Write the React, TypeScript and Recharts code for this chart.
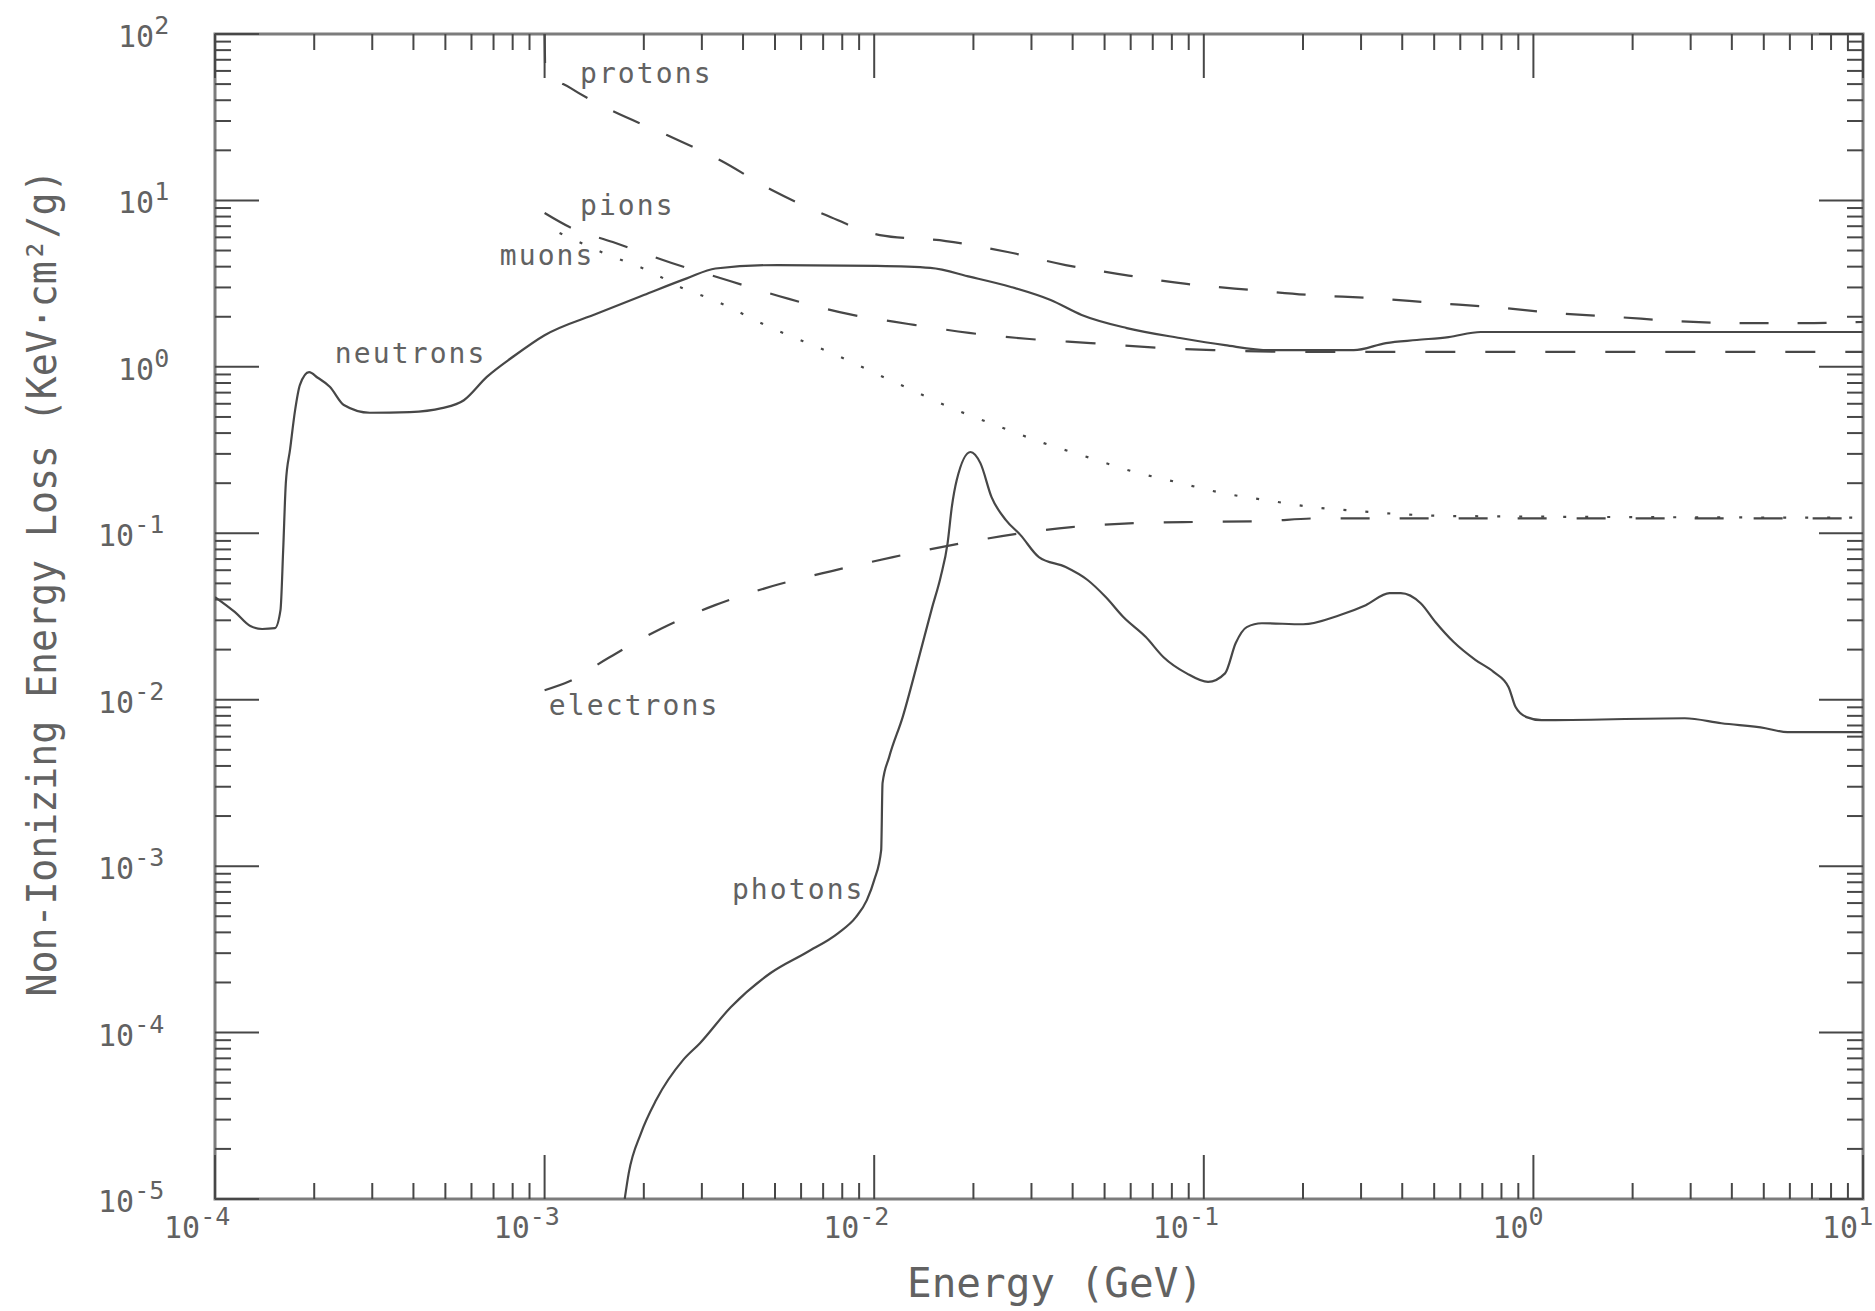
import React from "react";
import { LineChart, Line, XAxis, YAxis, ReferenceArea, ReferenceDot } from "recharts";

const WIDTH = 1875;
const HEIGHT = 1311;
const MARGIN = { top: 34, right: 12, bottom: 0, left: 0 };
const Y_AXIS_WIDTH = 215;
const X_AXIS_HEIGHT = 112;
const PLOT_TOP = MARGIN.top;
const PLOT_RIGHT = WIDTH - MARGIN.right;

const INK = "#474747";
const TEXT = "#626262";
const FRAME = "#7c7c7c";
const MONO = "'DejaVu Sans Mono', 'Liberation Mono', monospace";

// axis decades, labelled as 10^n
const xDecades = [1e-4, 1e-3, 1e-2, 1e-1, 1, 10];
const xExponents = ["-4", "-3", "-2", "-1", "0", "1"];
const yDecades = [1e-5, 1e-4, 1e-3, 1e-2, 1e-1, 1, 10, 100];
const yExponents = ["-5", "-4", "-3", "-2", "-1", "0", "1", "2"];
const minorSteps = [2, 3, 4, 5, 6, 7, 8, 9];

// energy (GeV) and non-ionizing energy loss (keV cm2/g)
const neutronE = [
  1.0e-4, 1.15e-4, 1.28e-4, 1.39e-4, 1.52e-4, 1.58e-4, 1.61e-4, 1.64e-4, 1.69e-4, 1.75e-4,
  1.81e-4, 1.93e-4, 2.05e-4, 2.23e-4, 2.46e-4, 2.95e-4, 3.9e-4, 4.88e-4, 5.69e-4, 6.68e-4,
  8.02e-4, 1.0e-3, 1.45e-3, 2.0e-3, 2.7e-3, 3.3e-3, 5.1e-3, 1.02e-2, 1.48e-2, 1.96e-2,
  2.6e-2, 3.43e-2, 4.26e-2, 5.84e-2, 8.46e-2, 0.116, 0.158, 0.285, 0.357, 0.443,
  0.553, 0.692, 10,
];
const neutronLoss = [
  0.0414, 0.0336, 0.0277, 0.0266, 0.0269, 0.0345, 0.079, 0.2, 0.32, 0.55,
  0.78, 0.93, 0.86, 0.76, 0.59, 0.53, 0.535, 0.565, 0.63, 0.87,
  1.15, 1.55, 2.1, 2.7, 3.4, 3.9, 4.09, 4.04, 3.93, 3.47,
  3.02, 2.52, 2.05, 1.71, 1.49, 1.35, 1.26, 1.26, 1.39, 1.45,
  1.51, 1.62, 1.62,
];

const protonE = [
  1.0e-3, 1.005e-3, 1.2e-3, 1.5e-3, 2.35e-3, 3.4e-3, 4.89e-3, 7.13e-3, 1.04e-2, 1.65e-2,
  2.54e-2, 3.81e-2, 5.79e-2, 8.87e-2, 0.138, 0.212, 0.323, 0.501, 0.767, 1.18,
  1.81, 2.77, 4.25, 6.55, 10,
];
const protonLoss = [
  100, 60.8, 47.3, 36.9, 24.7, 17.5, 11.55, 8.17, 6.19, 5.7,
  4.9, 4.09, 3.56, 3.15, 2.9, 2.7, 2.59, 2.42, 2.28, 2.1,
  1.99, 1.88, 1.83, 1.83, 1.86,
];

const pionE = [
  1.0e-3, 1.19e-3, 1.61e-3, 2.43e-3, 3.65e-3, 5.51e-3, 8.32e-3, 1.27e-2, 1.94e-2, 2.96e-2,
  4.54e-2, 6.95e-2, 0.107, 0.195, 10,
];
const pionLoss = [
  8.4, 6.92, 5.62, 4.21, 3.28, 2.56, 2.08, 1.81, 1.6, 1.47,
  1.39, 1.31, 1.26, 1.23, 1.23,
];

const muonE = [
  1.11e-3, 1.51e-3, 2.04e-3, 2.7e-3, 3.15e-3, 4.89e-3, 7.43e-3, 1.15e-2, 1.81e-2, 2.42e-2,
  3.27e-2, 4.44e-2, 6.0e-2, 8.27e-2, 0.113, 0.155, 0.212, 0.293, 0.404, 0.557, 10,
];
const muonLoss = [
  6.37, 4.83, 3.82, 2.9, 2.59, 1.71, 1.21, 0.811, 0.542, 0.435,
  0.348, 0.287, 0.237, 0.203, 0.175, 0.158, 0.144, 0.136, 0.13, 0.127, 0.124,
];

const electronE = [
  1.0e-3, 1.19e-3, 1.56e-3, 2.27e-3, 3.29e-3, 4.92e-3, 7.43e-3, 1.14e-2, 1.78e-2, 2.67e-2,
  3.97e-2, 6.17e-2, 9.44e-2, 0.147, 0.225, 10,
];
const electronLoss = [
  0.0114, 0.0129, 0.0178, 0.0269, 0.037, 0.0482, 0.0593, 0.0719, 0.0861, 0.0989,
  0.109, 0.115, 0.117, 0.118, 0.123, 0.123,
];

const photonE = [
  1.75e-3, 1.8e-3, 1.96e-3, 2.18e-3, 2.63e-3, 2.96e-3, 3.67e-3, 4.85e-3, 6.25e-3, 7.76e-3,
  8.8e-3, 9.5e-3, 1.0e-2, 1.05e-2, 1.06e-2, 1.11e-2, 1.22e-2, 1.36e-2, 1.5e-2, 1.59e-2,
  1.67e-2, 1.72e-2, 1.78e-2, 1.96e-2, 2.1e-2, 2.27e-2, 2.51e-2, 2.78e-2, 3.16e-2, 3.81e-2,
  4.44e-2, 5.04e-2, 5.71e-2, 6.67e-2, 7.55e-2, 8.87e-2, 0.103, 0.116, 0.125, 0.135,
  0.15, 0.2, 0.258, 0.31, 0.366, 0.396, 0.455, 0.505, 0.573, 0.668,
  0.757, 0.841, 0.883, 0.953, 1.06, 2.88, 3.72, 5.06, 5.9, 10,
];
const photonLoss = [
  1.0e-5, 1.43e-5, 2.48e-5, 3.93e-5, 6.83e-5, 8.63e-5, 1.42e-4, 2.28e-4, 3.04e-4, 3.95e-4,
  4.94e-4, 6.25e-4, 8.24e-4, 1.25e-3, 3.15e-3, 4.52e-3, 7.86e-3, 1.73e-2, 3.6e-2, 5.45e-2,
  8.73e-2, 0.144, 0.209, 0.308, 0.264, 0.165, 0.12, 0.0975, 0.0719, 0.0627,
  0.0524, 0.0414, 0.0313, 0.0238, 0.018, 0.0144, 0.0128, 0.0144, 0.0219, 0.0273,
  0.0288, 0.0284, 0.0322, 0.037, 0.0437, 0.0437, 0.038, 0.0292, 0.0222, 0.0173,
  0.0147, 0.0119, 0.00903, 0.00786, 0.00753, 0.00774, 0.00722, 0.00674, 0.00638, 0.00638,
];

// curve labels placed at (energy, loss) of the label's left edge
const labelNames = ["protons", "pions", "muons", "neutrons", "electrons", "photons"];
const labelE = [1.28e-3, 1.28e-3, 7.31e-4, 2.31e-4, 1.03e-3, 3.7e-3];
const labelLoss = [56.8, 9.12, 4.57, 1.18, 9.04e-3, 7.08e-4];

const zip = (e: number[], v: number[]) => e.map((x, i) => ({ e: x, v: v[i] }));

const withMinors = (decades: number[]) =>
  decades.flatMap((d, i) => (i === decades.length - 1 ? [d] : [d, ...minorSteps.map((m) => m * d)]));

const majorIndex = (decades: number[], value: number) =>
  decades.findIndex((d) => Math.abs(value / d - 1) < 1e-6);

function XTick(props: any) {
  const { x, y, payload } = props;
  const i = majorIndex(xDecades, payload.value);
  const len = i >= 0 ? 44 : 16;
  const exp = i >= 0 ? xExponents[i] : null;
  return (
    <g>
      <line x1={x} y1={y} x2={x} y2={y - len} stroke={INK} strokeWidth={2} />
      <line x1={x} y1={PLOT_TOP} x2={x} y2={PLOT_TOP + len} stroke={INK} strokeWidth={2} />
      {exp !== null && (
        <text x={x - (exp.startsWith("-") ? 51 : 41)} y={y + 39} fontFamily={MONO} fontSize={30} fill={TEXT}>
          10
          <tspan dy={-13} fontSize={25}>
            {exp}
          </tspan>
        </text>
      )}
    </g>
  );
}

function YTick(props: any) {
  const { x, y, payload } = props;
  const i = majorIndex(yDecades, payload.value);
  const len = i >= 0 ? 44 : 16;
  const exp = i >= 0 ? yExponents[i] : null;
  return (
    <g>
      <line x1={x} y1={y} x2={x + len} y2={y} stroke={INK} strokeWidth={2} />
      <line x1={PLOT_RIGHT - len} y1={y} x2={PLOT_RIGHT} y2={y} stroke={INK} strokeWidth={2} />
      {exp !== null && (
        <text x={x - (exp.startsWith("-") ? 117 : 97)} y={y + 13} fontFamily={MONO} fontSize={30} fill={TEXT}>
          10
          <tspan dy={-13} fontSize={25}>
            {exp}
          </tspan>
        </text>
      )}
    </g>
  );
}

function XTitle() {
  return (
    <text
      x={1055}
      y={1297}
      textAnchor="middle"
      fontFamily={MONO}
      fontSize={40}
      textLength={296}
      lengthAdjust="spacingAndGlyphs"
      fill={TEXT}
    >
      Energy (GeV)
    </text>
  );
}

function YTitle() {
  return (
    <text
      x={56}
      y={583}
      transform="rotate(-90 56 583)"
      textAnchor="middle"
      fontFamily={MONO}
      fontSize={41}
      textLength={827}
      lengthAdjust="spacingAndGlyphs"
      fill={TEXT}
    >
      Non-Ionizing Energy Loss (KeV·cm²/g)
    </text>
  );
}

function CurveLabel(props: any) {
  const { viewBox, text } = props;
  if (!viewBox) return null;
  return (
    <text x={viewBox.x} y={viewBox.y + 8} fontFamily={MONO} fontSize={28} letterSpacing={2.1} fill={TEXT}>
      {text}
    </text>
  );
}

const series = [
  { key: "protons", data: zip(protonE, protonLoss), dash: "29 29" },
  { key: "pions", data: zip(pionE, pionLoss), dash: "30 30" },
  { key: "muons", data: zip(muonE, muonLoss), dash: "3 19" },
  { key: "electrons", data: zip(electronE, electronLoss), dash: "29 30" },
  { key: "neutrons", data: zip(neutronE, neutronLoss), dash: undefined },
  { key: "photons", data: zip(photonE, photonLoss), dash: undefined },
];

export default function App() {
  return (
    <div style={{ position: "absolute", left: 0, top: 0, width: WIDTH, height: HEIGHT, background: "#fff" }}>
      <LineChart width={WIDTH} height={HEIGHT} margin={MARGIN}>
        <XAxis
          dataKey="e"
          type="number"
          scale="log"
          domain={[xDecades[0], xDecades[xDecades.length - 1]]}
          allowDataOverflow
          ticks={withMinors(xDecades)}
          interval={0}
          tick={<XTick />}
          tickLine={false}
          axisLine={false}
          tickSize={0}
          tickMargin={0}
          height={X_AXIS_HEIGHT}
          label={<XTitle />}
        />
        <YAxis
          dataKey="v"
          type="number"
          scale="log"
          domain={[yDecades[0], yDecades[yDecades.length - 1]]}
          allowDataOverflow
          ticks={withMinors(yDecades)}
          interval={0}
          tick={<YTick />}
          tickLine={false}
          axisLine={false}
          tickSize={0}
          tickMargin={0}
          width={Y_AXIS_WIDTH}
          label={<YTitle />}
        />
        <ReferenceArea
          x1={xDecades[0]}
          x2={xDecades[xDecades.length - 1]}
          y1={yDecades[0]}
          y2={yDecades[yDecades.length - 1]}
          fill="none"
          stroke={FRAME}
          strokeWidth={3}
          ifOverflow="visible"
        />
        {series.map((s) => (
          <Line
            key={s.key}
            data={s.data}
            dataKey="v"
            type="monotoneX"
            stroke={INK}
            strokeWidth={2.2}
            strokeDasharray={s.dash}
            dot={false}
            activeDot={false}
            isAnimationActive={false}
          />
        ))}
        {labelNames.map((name, i) => (
          <ReferenceDot
            key={name}
            x={labelE[i]}
            y={labelLoss[i]}
            r={0}
            fill="none"
            stroke="none"
            label={<CurveLabel text={name} />}
          />
        ))}
      </LineChart>
    </div>
  );
}
